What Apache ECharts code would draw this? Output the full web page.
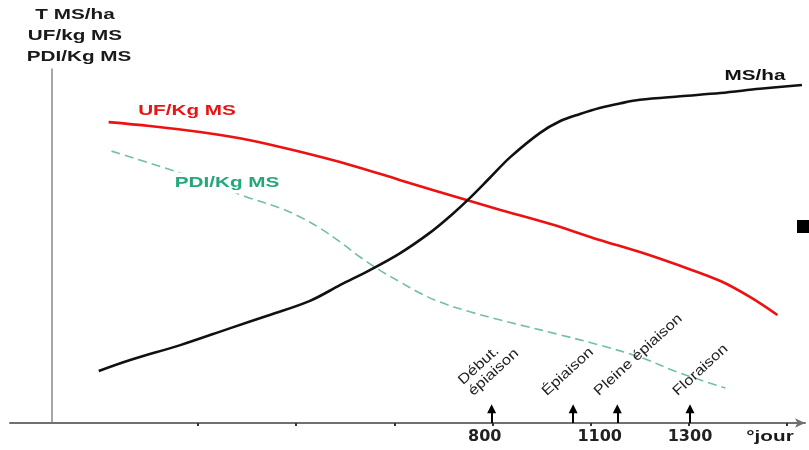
<!DOCTYPE html>
<html>
<head>
<meta charset="utf-8">
<script src="https://cdn.jsdelivr.net/npm/echarts@6/dist/echarts.min.js"></script>
<style>
html,body{margin:0;padding:0;background:#fff;}
#c{width:809px;height:450px;}
</style>
</head>
<body>
<div id="c"></div>
<script>
// ---- data (x in schematic position units, y in relative units 0..100) ----
const msX = [-101,-69,-18,33,73,114,145,175,206,236,257,277,297,318,348,369,389,409,430,450,491,532,572,615];
const msY = [14.7,17.8,22.0,26.8,30.5,34.5,39.0,43.2,48.0,53.7,58.5,63.6,69.2,75.1,81.9,85.3,87.3,89.0,90.3,91.3,92.3,93.2,94.4,95.5];

const ufX = [-91,-49,2,53,104,155,206,277,308,359,409,450,491,532,562,590];
const ufY = [85.0,83.9,82.2,79.9,76.6,72.9,68.6,62.7,60.2,56.2,51.7,48.3,44.4,40.1,35.6,30.5];

const pdiX = [-88,-31,12,50,84,104,124,145,165,185,206,226,246,277,308,328,369,409,450,491,537];
const pdiY = [76.8,71.8,67.8,63.8,60.7,58.2,55.1,51.1,46.9,43.2,39.8,36.7,34.2,31.4,29.1,27.7,24.9,22.0,18.6,14.1,9.9];

const xTickValues = [0,100,200,300,400,500,600];
const xLabelValues = [292,409,501];
const xLabels = ['800','1100','1300'];

const eventX = [299,382,427,501];
const eventLabels = ['Début.\népiaison','Épiaison','Pleine épiaison','Floraison'];
const arrowTop = 4;

const seriesNames = ['MS/ha','UF/Kg MS','PDI/Kg MS'];
const axisTitle = ['T MS/ha','UF/kg MS','PDI/Kg MS'];
const xUnit = '°jour';

// ---- layout ----
const zip = (a,b) => a.map((v,i)=>[v,b[i]]);
const chart = echarts.init(document.getElementById('c'), null, {renderer:'canvas'});

const option = {
  animation:false,
  backgroundColor:'#ffffff',
  grid:{left:10,right:4,top:69,bottom:27,outerBoundsMode:'none'},
  xAxis:{
    type:'value', min:-191.4, max:618.1,
    splitLine:{show:false},
    axisLine:{show:true,onZero:false,lineStyle:{color:'#707070',width:2},symbol:['none','arrow'],symbolSize:[7,10]},
    axisTick:{show:true,customValues:xTickValues,length:3,lineStyle:{color:'#333',width:2}},
    axisLabel:{show:true,customValues:xLabelValues,
      formatter:(v)=>{const i=xLabelValues.indexOf(v);return i>=0?xLabels[i]:'';},
      fontFamily:'DejaVu Sans',fontWeight:'bold',fontSize:16,color:'#222',margin:6}
  },
  yAxis:{
    type:'value', min:0, max:100, offset:-42,
    splitLine:{show:false},
    axisLine:{show:true,onZero:false,lineStyle:{color:'#8a8a8a',width:1.5}},
    axisTick:{show:false},
    axisLabel:{show:false}
  },
  series:[
    {name:seriesNames[0],type:'line',data:zip(msX,msY),smooth:0.35,showSymbol:false,
     lineStyle:{color:'#111',width:2.6},z:3},
    {name:seriesNames[1],type:'line',data:zip(ufX,ufY),smooth:0.35,showSymbol:false,
     lineStyle:{color:'#ee1111',width:2.6},z:2},
    {name:seriesNames[2],type:'line',data:zip(pdiX,pdiY),smooth:0.35,showSymbol:false,
     lineStyle:{color:'#72c0a0',width:1.6,type:[9,5]},z:1},
    {name:'events',type:'line',data:[],
     markLine:{silent:true,symbol:['none','triangle'],symbolSize:9,
       lineStyle:{color:'#000',width:2,type:'solid'},label:{show:false},
       data:eventX.map(x=>[{coord:[x,0]},{coord:[x,arrowTop]}])}}
  ]
};
chart.setOption(option);

// texts placed relative to library pixel positions
const F = 'bold 15px "Liberation Sans", Arial, sans-serif';
const SX = 1.38;
const g = [];
[[75,15],[75,36],[79,57]].forEach((p,i)=>{
  g.push({type:'text',x:p[0],y:p[1],scaleX:SX,style:{text:axisTitle[i],font:F,fill:'#1a1a1a',align:'center',verticalAlign:'middle'}});
});
g.push({type:'text',x:755,y:76,scaleX:SX,z:10,style:{text:seriesNames[0],font:F,fill:'#111',align:'center',verticalAlign:'middle'}});
g.push({type:'text',x:187,y:111,scaleX:SX,z:10,style:{text:seriesNames[1],font:F,fill:'#e81515',align:'center',verticalAlign:'middle'}});
g.push({type:'text',x:227,y:183,scaleX:SX,z:10,style:{text:seriesNames[2],font:F,fill:'#23a77b',align:'center',verticalAlign:'middle',backgroundColor:'#fff',padding:[3,3]}});
g.push({type:'text',x:770,y:437,scaleX:SX,style:{text:xUnit,font:F,fill:'#1a1a1a',align:'center',verticalAlign:'middle'}});
g.push({type:'rect',shape:{x:797,y:220,width:14,height:13},style:{fill:'#000'}});

const labelShift = [16,24,16,10];
eventX.forEach((x,i)=>{
  const p = chart.convertToPixel({gridIndex:0},[x,0]);
  g.push({type:'text',x:p[0]-labelShift[i],y:p[1]-24,rotation:0.74,scaleX:1.2,z:10,
    style:{text:eventLabels[i],font:'14px "Liberation Sans", Arial, sans-serif',fill:'#222',
      align:'left',verticalAlign:'bottom',lineHeight:15}});
});
chart.setOption({graphic:g});
</script>
</body>
</html>
